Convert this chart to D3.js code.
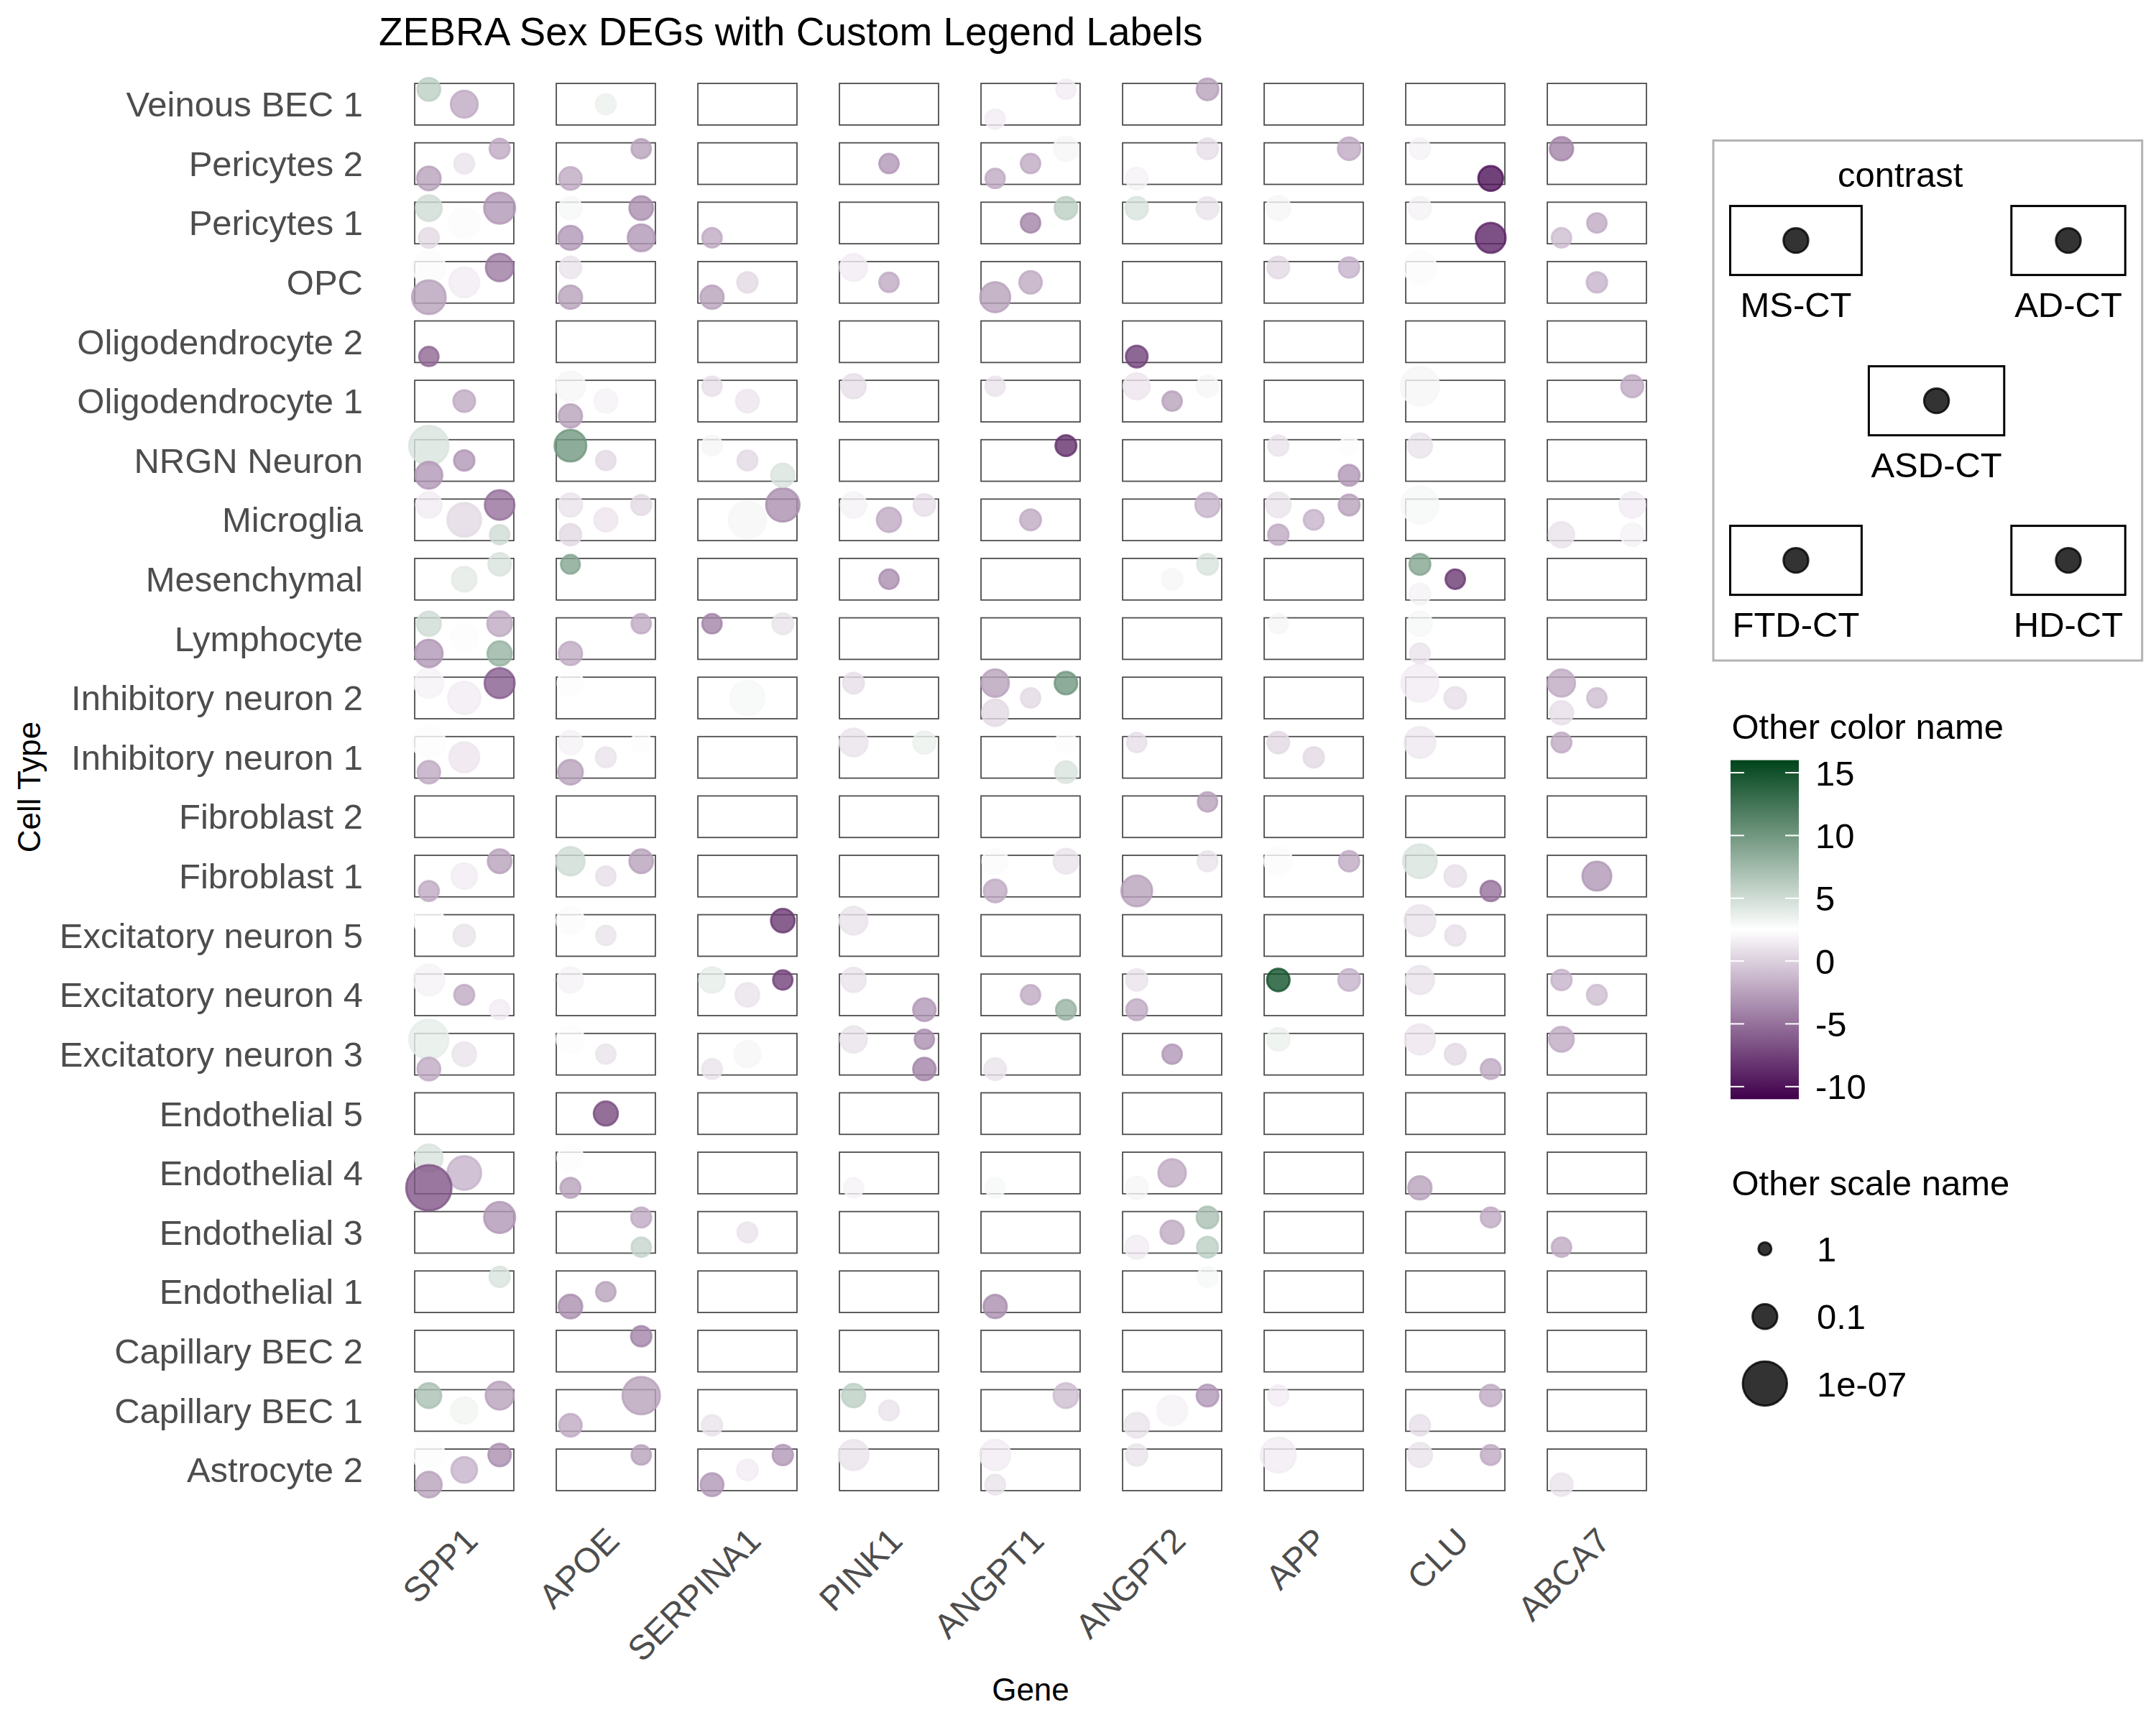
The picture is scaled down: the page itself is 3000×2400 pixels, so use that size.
<!DOCTYPE html>
<html><head><meta charset="utf-8">
<script src="https://cdn.jsdelivr.net/npm/d3@7/dist/d3.min.js"></script>
<style>body{margin:0;background:#fff}</style>
</head><body>
<svg id="chart" width="3000" height="2400" xmlns="http://www.w3.org/2000/svg"></svg>
<script>
// ---------- data ----------
const cellTypes = ["Veinous BEC 1","Pericytes 2","Pericytes 1","OPC","Oligodendrocyte 2","Oligodendrocyte 1","NRGN Neuron","Microglia","Mesenchymal","Lymphocyte","Inhibitory neuron 2","Inhibitory neuron 1","Fibroblast 2","Fibroblast 1","Excitatory neuron 5","Excitatory neuron 4","Excitatory neuron 3","Endothelial 5","Endothelial 4","Endothelial 3","Endothelial 1","Capillary BEC 2","Capillary BEC 1","Astrocyte 2"];
const genes = ["SPP1","APOE","SERPINA1","PINK1","ANGPT1","ANGPT2","APP","CLU","ABCA7"];
const contrasts = ["MS-CT","AD-CT","ASD-CT","FTD-CT","HD-CT"];
// [cell type, gene, colour value, p-value]
const MS_CT = [
["Veinous BEC 1","SPP1",6,0.2],["Pericytes 2","CLU",1.8,0.35],["Pericytes 2","ABCA7",-4,0.17],
["Pericytes 1","SPP1",5,0.066],["Pericytes 1","APOE",3,0.22],["Pericytes 1","ANGPT2",4.5,0.22],["Pericytes 1","APP",2,0.11],["Pericytes 1","CLU",1.8,0.22],
["OPC","SPP1",2.3,0.0014],["OPC","APOE",1,0.28],["OPC","PINK1",1.5,0.04],["OPC","APP",0.5,0.28],["OPC","CLU",2.3,0.0017],
["Oligodendrocyte 1","APOE",2,0.01],["Oligodendrocyte 1","SERPINA1",0.8,0.5],["Oligodendrocyte 1","PINK1",0.8,0.12],["Oligodendrocyte 1","ANGPT1",1,0.5],["Oligodendrocyte 1","ANGPT2",1.2,0.054],["Oligodendrocyte 1","CLU",2,2e-5],
["NRGN Neuron","SPP1",4.5,1e-5],["NRGN Neuron","APOE",10,0.003],["NRGN Neuron","SERPINA1",2,0.4],["NRGN Neuron","APP",1,0.4],["NRGN Neuron","CLU",1,0.11],
["Microglia","SPP1",1.5,0.07],["Microglia","APOE",1,0.17],["Microglia","PINK1",1.8,0.07],["Microglia","APP",1,0.1],["Microglia","CLU",3,6e-5],
["Mesenchymal","APOE",9,0.56],["Mesenchymal","CLU",9,0.35],
["Lymphocyte","SPP1",5,0.13],["Lymphocyte","SERPINA1",-4,0.5],["Lymphocyte","APP",2,0.5],["Lymphocyte","CLU",3,0.11],
["Inhibitory neuron 2","SPP1",1.8,0.012],["Inhibitory neuron 2","APOE",2.4,0.07],["Inhibitory neuron 2","PINK1",0.8,0.35],["Inhibitory neuron 2","ANGPT1",-2.5,0.03],["Inhibitory neuron 2","CLU",1.5,6e-5],["Inhibitory neuron 2","ABCA7",-2,0.035],
["Inhibitory neuron 1","SPP1",2.4,0.0015],["Inhibitory neuron 1","APOE",1.8,0.15],["Inhibitory neuron 1","PINK1",1,0.025],["Inhibitory neuron 1","ANGPT2",0.8,0.5],["Inhibitory neuron 1","APP",0.5,0.28],["Inhibitory neuron 1","CLU",1.3,0.0045],["Inhibitory neuron 1","ABCA7",-2,0.45],
["Fibroblast 1","APOE",5,0.02],["Fibroblast 1","ANGPT1",2.3,0.07],["Fibroblast 1","APP",2.3,0.025],["Fibroblast 1","CLU",4.5,0.0008],
["Excitatory neuron 5","SPP1",2.5,0.008],["Excitatory neuron 5","APOE",2.3,0.03],["Excitatory neuron 5","PINK1",1,0.025],["Excitatory neuron 5","CLU",1,0.0045],
["Excitatory neuron 4","SPP1",1.8,0.005],["Excitatory neuron 4","APOE",1.8,0.08],["Excitatory neuron 4","SERPINA1",3.8,0.07],["Excitatory neuron 4","PINK1",1,0.12],["Excitatory neuron 4","ANGPT2",1,0.3],["Excitatory neuron 4","APP",15,0.22],["Excitatory neuron 4","CLU",1,0.02],["Excitatory neuron 4","ABCA7",-1.5,0.4],
["Excitatory neuron 3","SPP1",3.8,1e-5],["Excitatory neuron 3","APOE",2.4,0.03],["Excitatory neuron 3","PINK1",1,0.05],["Excitatory neuron 3","APP",3.5,0.2],["Excitatory neuron 3","CLU",1.2,0.007],["Excitatory neuron 3","ABCA7",-2,0.1],
["Endothelial 4","SPP1",4.5,0.03],["Endothelial 4","APOE",2.4,0.06],
["Capillary BEC 1","SPP1",7,0.1],["Capillary BEC 1","PINK1",6,0.17],["Capillary BEC 1","APP",1.5,0.4],
["Astrocyte 2","SPP1",2.4,0.003],["Astrocyte 2","PINK1",1,0.008],["Astrocyte 2","ANGPT1",1.5,0.006],["Astrocyte 2","ANGPT2",1,0.3],["Astrocyte 2","APP",1.5,0.0003],["Astrocyte 2","CLU",1,0.12]
];
const AD_CT = [
["Veinous BEC 1","ANGPT1",1.5,0.5],["Veinous BEC 1","ANGPT2",-2.5,0.28],
["Pericytes 2","SPP1",-2,0.44],["Pericytes 2","APOE",-2.5,0.5],["Pericytes 2","ANGPT1",2,0.11],["Pericytes 2","ANGPT2",0.8,0.35],["Pericytes 2","APP",-2,0.22],
["Pericytes 1","SPP1",-3,0.0045],["Pericytes 1","APOE",-3.5,0.15],["Pericytes 1","ANGPT1",6,0.22],["Pericytes 1","ANGPT2",1,0.25],
["OPC","SPP1",-4.5,0.03],["OPC","APP",-1.5,0.4],
["Oligodendrocyte 1","ANGPT2",2,0.3],["Oligodendrocyte 1","ABCA7",-2,0.25],
["NRGN Neuron","ANGPT1",-8.5,0.35],["NRGN Neuron","APP",2.4,0.6],
["Microglia","SPP1",-5,0.01],["Microglia","APOE",0.5,0.44],["Microglia","SERPINA1",-3.5,0.001],["Microglia","PINK1",0.8,0.28],["Microglia","ANGPT2",-1.5,0.12],["Microglia","APP",-2.5,0.35],["Microglia","ABCA7",1.5,0.07],
["Mesenchymal","SPP1",4.5,0.22],["Mesenchymal","ANGPT2",4.5,0.35],
["Lymphocyte","SPP1",-2,0.1],["Lymphocyte","APOE",-2,0.5],["Lymphocyte","SERPINA1",1,0.35],
["Inhibitory neuron 2","SPP1",-6,0.008],["Inhibitory neuron 2","ANGPT1",10,0.22],
["Inhibitory neuron 1","APOE",2.4,0.44],["Inhibitory neuron 1","PINK1",3.5,0.22],["Inhibitory neuron 1","ANGPT1",2.4,0.35],
["Fibroblast 2","ANGPT2",-2.5,0.5],
["Fibroblast 1","SPP1",-2.5,0.15],["Fibroblast 1","APOE",-2.5,0.15],["Fibroblast 1","ANGPT1",1,0.1],["Fibroblast 1","ANGPT2",1,0.44],["Fibroblast 1","APP",-2,0.4],
["Excitatory neuron 5","SERPINA1",-8,0.15],
["Excitatory neuron 4","SERPINA1",-7.5,0.5],["Excitatory neuron 4","APP",-1.5,0.28],
["Excitatory neuron 3","PINK1",-3.5,0.5],
["Endothelial 3","SPP1",-3,0.0045],["Endothelial 3","APOE",-2,0.44],["Endothelial 3","ANGPT2",7,0.28],["Endothelial 3","CLU",-2,0.45],
["Endothelial 1","SPP1",4.5,0.4],["Endothelial 1","ANGPT2",3,0.44],
["Capillary BEC 2","APOE",-4,0.4],
["Capillary BEC 1","SPP1",-2.5,0.025],["Capillary BEC 1","APOE",-2.5,5e-5],["Capillary BEC 1","ANGPT1",-1,0.1],["Capillary BEC 1","ANGPT2",-3,0.28],["Capillary BEC 1","CLU",-2,0.3],
["Astrocyte 2","SPP1",-3.5,0.22],["Astrocyte 2","APOE",-2.5,0.5],["Astrocyte 2","SERPINA1",-3,0.4],["Astrocyte 2","CLU",-2,0.45]
];
const ASD_CT = [
["Veinous BEC 1","SPP1",-2,0.04],["Veinous BEC 1","APOE",3.5,0.44],
["Pericytes 2","SPP1",1,0.44],["Pericytes 2","PINK1",-3,0.5],["Pericytes 2","ANGPT1",-2,0.5],
["Pericytes 1","SPP1",2.3,0.005],["Pericytes 1","ANGPT1",-4,0.5],["Pericytes 1","ABCA7",-2,0.5],
["OPC","SPP1",1.5,0.008],["OPC","SERPINA1",0.5,0.4],["OPC","PINK1",-2,0.5],["OPC","ANGPT1",-2,0.22],["OPC","ABCA7",-1.5,0.4],
["Oligodendrocyte 1","SPP1",-2,0.28],["Oligodendrocyte 1","APOE",1.8,0.17],["Oligodendrocyte 1","SERPINA1",1.2,0.2],["Oligodendrocyte 1","ANGPT2",-2.5,0.5],
["NRGN Neuron","SPP1",-3,0.4],["NRGN Neuron","APOE",0.5,0.5],["NRGN Neuron","SERPINA1",0.5,0.44],
["Microglia","SPP1",0.5,0.0008],["Microglia","APOE",1.2,0.17],["Microglia","SERPINA1",2,5.6e-5],["Microglia","PINK1",-2,0.12],["Microglia","ANGPT1",-2,0.35],["Microglia","APP",-1.5,0.45],
["Mesenchymal","SPP1",4,0.1],["Mesenchymal","PINK1",-3.5,0.5],["Mesenchymal","ANGPT2",2,0.35],["Mesenchymal","CLU",-8,0.5],
["Lymphocyte","SPP1",2.4,0.03],
["Inhibitory neuron 2","SPP1",1.5,0.002],["Inhibitory neuron 2","SERPINA1",3,0.0005],["Inhibitory neuron 2","ANGPT1",0.5,0.5],["Inhibitory neuron 2","CLU",0.8,0.28],["Inhibitory neuron 2","ABCA7",-1,0.5],
["Inhibitory neuron 1","SPP1",1.2,0.008],["Inhibitory neuron 1","APOE",1,0.44],["Inhibitory neuron 1","APP",0.5,0.4],
["Fibroblast 1","SPP1",1.5,0.07],["Fibroblast 1","APOE",0.8,0.5],["Fibroblast 1","CLU",0.8,0.28],["Fibroblast 1","ABCA7",-3,0.015],
["Excitatory neuron 5","SPP1",1,0.28],["Excitatory neuron 5","APOE",1,0.5],["Excitatory neuron 5","CLU",0.8,0.4],
["Excitatory neuron 4","SPP1",-2,0.44],["Excitatory neuron 4","SERPINA1",1,0.15],["Excitatory neuron 4","ANGPT1",-2,0.5],["Excitatory neuron 4","ABCA7",-1,0.45],
["Excitatory neuron 3","SPP1",1,0.15],["Excitatory neuron 3","APOE",1,0.5],["Excitatory neuron 3","SERPINA1",2,0.05],["Excitatory neuron 3","ANGPT2",-3,0.5],["Excitatory neuron 3","CLU",0.5,0.35],
["Endothelial 5","APOE",-7,0.13],
["Endothelial 4","SPP1",-1.5,0.0008],["Endothelial 4","ANGPT2",-2,0.03],
["Endothelial 3","SERPINA1",1,0.44],["Endothelial 3","ANGPT2",-2,0.17],
["Endothelial 1","APOE",-2.5,0.5],
["Capillary BEC 1","SPP1",3.2,0.05],["Capillary BEC 1","PINK1",1,0.44],["Capillary BEC 1","ANGPT2",1.8,0.008],
["Astrocyte 2","SPP1",-1.5,0.07],["Astrocyte 2","SERPINA1",1.5,0.35]
];
const FTD_CT = [
["Veinous BEC 1","ANGPT1",1.5,0.5],
["Pericytes 2","SPP1",-2.5,0.15],["Pericytes 2","APOE",-2,0.22],["Pericytes 2","ANGPT1",-2,0.5],["Pericytes 2","ANGPT2",1.8,0.28],
["Pericytes 1","SPP1",0.5,0.44],["Pericytes 1","APOE",-3,0.13],["Pericytes 1","SERPINA1",-2,0.5],["Pericytes 1","ABCA7",-1,0.5],
["OPC","SPP1",-2.5,0.0008],["OPC","APOE",-2.5,0.17],["OPC","SERPINA1",-2.5,0.17],["OPC","ANGPT1",-2.5,0.008],
["Oligodendrocyte 2","SPP1",-5.5,0.5],["Oligodendrocyte 2","ANGPT2",-7.5,0.28],
["Oligodendrocyte 1","APOE",-2.5,0.17],
["NRGN Neuron","SPP1",-3,0.04],
["Microglia","APOE",0.5,0.3],["Microglia","APP",-2,0.4],["Microglia","ABCA7",1,0.08],
["Mesenchymal","CLU",1.8,0.35],
["Lymphocyte","SPP1",-3,0.03],["Lymphocyte","APOE",-2,0.17],["Lymphocyte","CLU",1,0.45],
["Inhibitory neuron 2","ANGPT1",0.5,0.05],["Inhibitory neuron 2","ABCA7",0.8,0.17],
["Inhibitory neuron 1","SPP1",-2,0.22],["Inhibitory neuron 1","APOE",-2.5,0.1],
["Fibroblast 1","SPP1",-2,0.44],["Fibroblast 1","ANGPT1",-2,0.2],["Fibroblast 1","ANGPT2",-2.5,0.005],
["Excitatory neuron 4","ANGPT2",-2,0.35],
["Excitatory neuron 3","SPP1",-2,0.2],["Excitatory neuron 3","SERPINA1",1,0.44],["Excitatory neuron 3","ANGPT1",1,0.28],
["Endothelial 4","SPP1",-6.5,3e-8],["Endothelial 4","APOE",-2.5,0.44],["Endothelial 4","PINK1",1.8,0.5],["Endothelial 4","ANGPT1",3,0.5],["Endothelial 4","ANGPT2",2,0.22],["Endothelial 4","CLU",-2.5,0.17],
["Endothelial 3","ANGPT2",1.5,0.17],["Endothelial 3","ABCA7",-2,0.5],
["Endothelial 1","APOE",-3.5,0.15],["Endothelial 1","ANGPT1",-3.5,0.17],
["Capillary BEC 1","APOE",-2,0.22],["Capillary BEC 1","SERPINA1",1,0.4],["Capillary BEC 1","ANGPT2",1,0.1],["Capillary BEC 1","CLU",0.8,0.4],
["Astrocyte 2","SPP1",-2.5,0.07],["Astrocyte 2","SERPINA1",-3,0.2],["Astrocyte 2","ANGPT1",1,0.45],["Astrocyte 2","ABCA7",1,0.22]
];
const HD_CT = [
["Pericytes 2","CLU",-10,0.1],
["Pericytes 1","APOE",-3,0.04],["Pericytes 1","CLU",-9,0.0085],
["NRGN Neuron","SERPINA1",4.5,0.17],["NRGN Neuron","APP",-3,0.35],
["Microglia","SPP1",5,0.5],["Microglia","ABCA7",1.8,0.22],
["Lymphocyte","SPP1",8,0.12],
["Inhibitory neuron 1","ANGPT1",4.5,0.28],
["Fibroblast 1","CLU",-5,0.4],
["Excitatory neuron 4","SPP1",1.5,0.5],["Excitatory neuron 4","PINK1",-3,0.22],["Excitatory neuron 4","ANGPT1",8,0.45],
["Excitatory neuron 3","PINK1",-4,0.22],["Excitatory neuron 3","CLU",-2,0.45],
["Endothelial 3","APOE",5.5,0.5],["Endothelial 3","ANGPT2",6,0.35]
];
const colorLimits = [-11, 16];
const colorTicks = [15, 10, 5, 0, -5, -10];
const sizeBreaks = [1, 0.1, 1e-7];
const sizeBreakLabels = ["1", "0.1", "1e-07"];
const titleText = "ZEBRA Sex DEGs with Custom Legend Labels";

// ---------- setup ----------
const FONT = "'Liberation Sans', Arial, Helvetica, sans-serif";
const svg = d3.select("#chart").style("font-family", FONT);
svg.append("rect").attr("width", 3000).attr("height", 2400).attr("fill", "#fff");

const series = {"MS-CT": MS_CT, "AD-CT": AD_CT, "ASD-CT": ASD_CT, "FTD-CT": FTD_CT, "HD-CT": HD_CT};
const offsets = {"MS-CT": [-0.25, -0.25], "AD-CT": [0.25, -0.25], "ASD-CT": [0, 0], "FTD-CT": [-0.25, 0.25], "HD-CT": [0.25, 0.25]};

const x = d3.scaleBand().domain(genes).range([547.5, 2320.5]);
const y = d3.scaleBand().domain(cellTypes).range([103.7, 2086.3]);
const color = d3.scaleLinear()
  .domain([colorLimits[0], (colorLimits[0] + colorLimits[1]) / 2, colorLimits[1]])
  .range(["#40004B", "#FFFFFF", "#00441B"]).clamp(true);
const size = d3.scaleSqrt().domain([0, 7]).range([9, 30.75]);
const ALPHA = 0.8, STROKE = 3;

// tiles
const tiles = [];
cellTypes.forEach(c => genes.forEach(g => tiles.push({c, g})));
svg.append("g").selectAll("rect").data(tiles).join("rect")
  .attr("x", d => x(d.g) + x.bandwidth() * 0.15)
  .attr("y", d => y(d.c) + y.bandwidth() * 0.15)
  .attr("width", x.bandwidth() * 0.7)
  .attr("height", y.bandwidth() * 0.7)
  .attr("fill", "none").attr("stroke", "#4d4d4d").attr("stroke-width", 1.8);

// points
const points = [];
contrasts.forEach(k => series[k].forEach(r => points.push({contrast: k, cell: r[0], gene: r[1], value: r[2], p: r[3]})));
svg.append("g").selectAll("circle").data(points).join("circle")
  .attr("cx", d => x(d.gene) + x.bandwidth() * (0.5 + offsets[d.contrast][0]))
  .attr("cy", d => y(d.cell) + y.bandwidth() * (0.5 + offsets[d.contrast][1]))
  .attr("r", d => size(-Math.log10(d.p)))
  .attr("fill", d => color(d.value)).attr("fill-opacity", ALPHA)
  .attr("stroke", d => color(d.value)).attr("stroke-opacity", ALPHA)
  .attr("stroke-width", STROKE);

// axes (text only)
const yAxis = d3.axisLeft(y).tickSize(0).tickPadding(0);
const gy = svg.append("g").attr("transform", "translate(505,0)").call(yAxis);
gy.select(".domain").remove();
gy.selectAll("text").attr("font-size", 49).attr("fill", "#4D4D4D").attr("font-family", FONT).attr("dy", "0.35em");

const xAxis = d3.axisBottom(x).tickSize(0).tickPadding(0);
const gx = svg.append("g").attr("transform", "translate(0,2122)").call(xAxis);
gx.select(".domain").remove();
gx.selectAll("text").attr("font-size", 48).attr("fill", "#4D4D4D").attr("font-family", FONT)
  .attr("text-anchor", "end").attr("y", 0).attr("dy", "0.72em")
  .attr("transform", "translate(-3,0) rotate(-45)");

// titles
svg.append("text").attr("x", 527).attr("y", 63).attr("font-size", 55).attr("fill", "#000").text(titleText);
svg.append("text").attr("transform", "translate(56,1095) rotate(-90)").attr("text-anchor", "middle")
  .attr("font-size", 44).attr("fill", "#000").text("Cell Type");
svg.append("text").attr("x", (x.range()[0] + x.range()[1]) / 2).attr("y", 2366).attr("text-anchor", "middle")
  .attr("font-size", 44).attr("fill", "#000").text("Gene");

// ---------- contrast legend ----------
const LFS = 49;
const leg = svg.append("g");
const legBox = leg.append("rect").attr("fill", "#fff").attr("stroke", "#B3B3B3").attr("stroke-width", 3);
leg.append("text").attr("x", 2557).attr("y", 260).attr("font-size", LFS).text("contrast");
const legLayout = {"MS-CT": [0, 0], "AD-CT": [2, 0], "ASD-CT": [1, 1], "FTD-CT": [0, 2], "HD-CT": [2, 2]};
const meas = svg.append("text").attr("font-size", LFS);
const labW = {};
contrasts.forEach(k => { meas.text(k); labW[k] = meas.node().getComputedTextLength(); });
meas.remove();
const colW = [0, 0, 0];
contrasts.forEach(k => { const c = legLayout[k][0]; colW[c] = Math.max(colW[c], labW[k] + 6); });
const colX = [2407.5];
colX[1] = colX[0] + colW[0] + 10;
colX[2] = colX[1] + colW[1] + 10;
const rowY = [286.6, 509.6, 731.6], keyH = 96;
contrasts.forEach(k => {
  const [c, r] = legLayout[k];
  const kx = colX[c], ky = rowY[r], w = colW[c];
  leg.append("rect").attr("x", kx).attr("y", ky).attr("width", w).attr("height", keyH)
    .attr("fill", "#fff").attr("stroke", "#000").attr("stroke-width", 3);
  leg.append("circle").attr("cx", kx + w / 2).attr("cy", ky + keyH / 2).attr("r", size(1))
    .attr("fill", "#000").attr("fill-opacity", ALPHA).attr("stroke", "#000").attr("stroke-opacity", ALPHA).attr("stroke-width", STROKE);
  leg.append("text").attr("x", kx + w / 2).attr("y", ky + keyH + 58).attr("text-anchor", "middle")
    .attr("font-size", LFS).text(k);
});
const boxL = colX[0] - 23.5, boxR = colX[2] + colW[2] + 23.5;
legBox.attr("x", boxL).attr("y", 195.5).attr("width", boxR - boxL).attr("height", 919 - 195.5);

// ---------- colour bar ----------
const cb = svg.append("g");
cb.append("text").attr("x", 2409.5).attr("y", 1028).attr("font-size", LFS).text("Other color name");
const barY = d3.scaleLinear().domain(colorLimits).range([1529.3, 1057.6]);
const grad = svg.append("defs").append("linearGradient").attr("id", "cbgrad")
  .attr("x1", 0).attr("y1", 1).attr("x2", 0).attr("y2", 0);
d3.range(0, 1.0001, 0.02).forEach(t => {
  const v = colorLimits[0] + t * (colorLimits[1] - colorLimits[0]);
  grad.append("stop").attr("offset", t).attr("stop-color", color(v));
});
const barX0 = 2408, barW = 95;
cb.append("rect").attr("x", barX0).attr("y", barY(colorLimits[1])).attr("width", barW)
  .attr("height", barY(colorLimits[0]) - barY(colorLimits[1])).attr("fill", "url(#cbgrad)");
colorTicks.forEach(t => {
  const yy = barY(t);
  cb.append("line").attr("x1", barX0).attr("x2", barX0 + barW / 5).attr("y1", yy).attr("y2", yy).attr("stroke", "#fff").attr("stroke-width", 2);
  cb.append("line").attr("x1", barX0 + barW * 4 / 5).attr("x2", barX0 + barW).attr("y1", yy).attr("y2", yy).attr("stroke", "#fff").attr("stroke-width", 2);
  cb.append("text").attr("x", 2526).attr("y", yy).attr("dy", "0.36em").attr("font-size", LFS).text(t);
});

// ---------- size legend ----------
const sl = svg.append("g");
sl.append("text").attr("x", 2409.5).attr("y", 1662.7).attr("font-size", LFS).text("Other scale name");
const sizeKeyY = [1737.5, 1831.8, 1924.9];
sizeBreaks.forEach((b, i) => {
  sl.append("circle").attr("cx", 2455.8).attr("cy", sizeKeyY[i]).attr("r", size(-Math.log10(b)))
    .attr("fill", "#000").attr("fill-opacity", ALPHA).attr("stroke", "#000").attr("stroke-opacity", ALPHA).attr("stroke-width", STROKE);
  sl.append("text").attr("x", 2528).attr("y", sizeKeyY[i]).attr("dy", "0.36em").attr("font-size", LFS).text(sizeBreakLabels[i]);
});
</script>
</body></html>
